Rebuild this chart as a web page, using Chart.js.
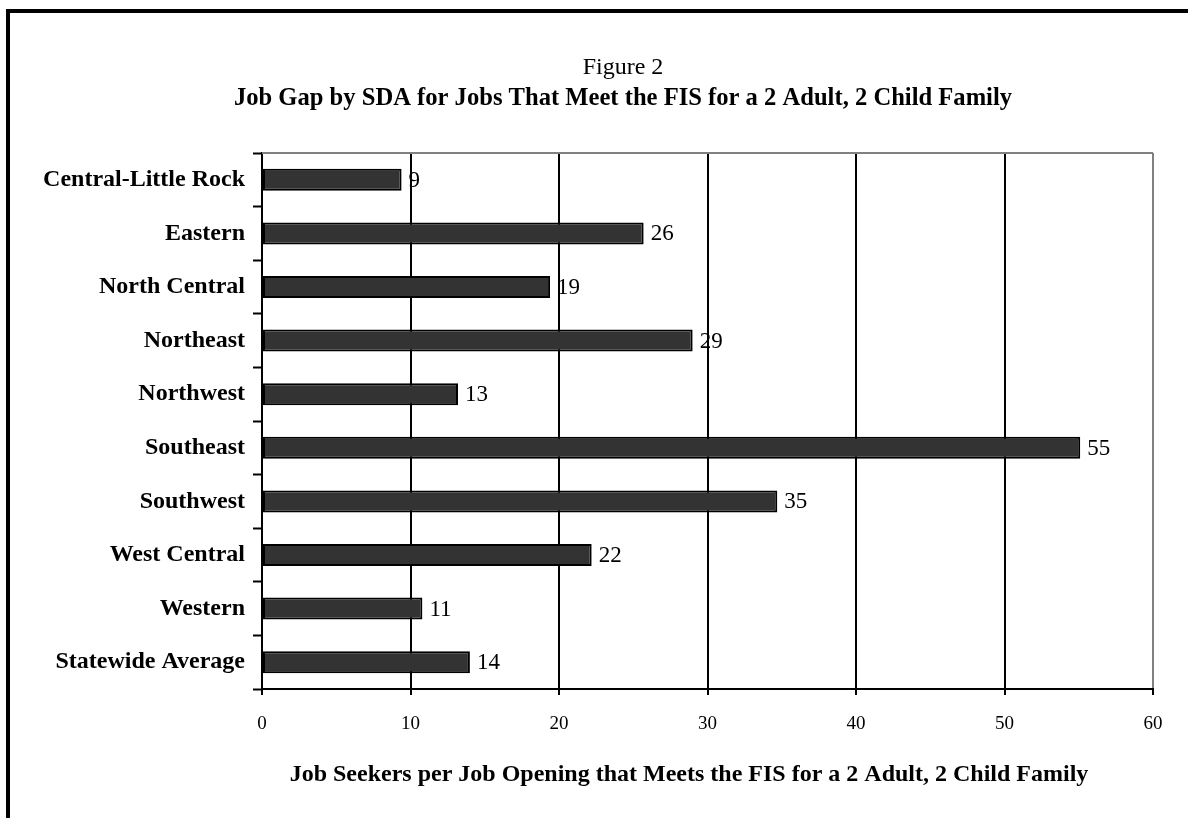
<!DOCTYPE html>
<html>
<head>
<meta charset="utf-8">
<script src="https://cdn.jsdelivr.net/npm/chart.js@4"></script>
<style>
  html, body { margin: 0; padding: 0; background: #fff; }
  #wrap { width: 1188px; height: 818px; position: relative; }
</style>
</head>
<body>
<div id="wrap"><canvas id="c"></canvas></div>
<script>
// ---- data ----
const categories = ["Central-Little Rock", "Eastern", "North Central", "Northeast", "Northwest",
                    "Southeast", "Southwest", "West Central", "Western", "Statewide Average"];
const jobSeekersPerOpening = [9.4, 25.7, 19.4, 29.0, 13.2, 55.1, 34.7, 22.2, 10.8, 14.0];
const xTicks = [0, 10, 20, 30, 40, 50, 60];
const figureLabel = "Figure 2";
const chartTitle = "Job Gap by SDA for Jobs That Meet the FIS for a 2 Adult, 2 Child Family";
const xAxisTitle = "Job Seekers per Job Opening that Meets the FIS for a 2 Adult, 2 Child Family";

const SERIF = "'Liberation Serif', 'Times New Roman', serif";

const framePlugin = {
  id: 'frame',
  beforeDraw(chart) {
    const ctx = chart.ctx;
    ctx.save();
    ctx.fillStyle = '#ffffff';
    ctx.fillRect(0, 0, chart.width, chart.height);
    ctx.fillStyle = '#000000';
    ctx.fillRect(6, 9, chart.width, 4);
    ctx.fillRect(6, 9, 4, chart.height);
    ctx.restore();
  },
  beforeDatasetsDraw(chart) {
    const {ctx, chartArea} = chart;
    ctx.save();
    ctx.strokeStyle = '#808080';
    ctx.lineWidth = 2;
    ctx.beginPath();
    ctx.moveTo(chartArea.left, chartArea.top);
    ctx.lineTo(chartArea.right, chartArea.top);
    ctx.stroke();
    ctx.restore();
  },
  afterDraw(chart) {
    const ctx = chart.ctx;
    ctx.save();
    ctx.fillStyle = '#000';
    ctx.textAlign = 'center';
    ctx.textBaseline = 'middle';
    ctx.font = "24px " + SERIF;
    ctx.fillText(figureLabel, 623, 68);
    ctx.font = "bold 24.6px " + SERIF;
    ctx.fillText(chartTitle, 623, 99);
    ctx.font = "bold 24px " + SERIF;
    ctx.fillText(xAxisTitle, 689, 775);
    ctx.restore();
  }
};

const valueLabels = {
  id: 'valueLabels',
  afterDatasetsDraw(chart) {
    const ctx = chart.ctx;
    const meta = chart.getDatasetMeta(0);
    ctx.save();
    ctx.font = "23px " + SERIF;
    ctx.fillStyle = '#000';
    ctx.textAlign = 'left';
    ctx.textBaseline = 'middle';
    meta.data.forEach((bar, i) => {
      const v = chart.data.datasets[0].data[i];
      ctx.fillText(String(Math.round(v)), bar.x + 7, bar.y + 1);
    });
    ctx.restore();
  }
};

new Chart(document.getElementById('c'), {
  type: 'bar',
  data: {
    labels: categories,
    datasets: [{
      data: jobSeekersPerOpening,
      backgroundColor: '#333333',
      borderColor: '#000000',
      borderWidth: 2,
      borderSkipped: false,
      categoryPercentage: 1.0,
      barPercentage: 0.41
    }]
  },
  options: {
    indexAxis: 'y',
    responsive: true,
    maintainAspectRatio: false,
    animation: false,
    devicePixelRatio: 1,
    layout: { padding: { left: 20, right: 35, top: 153, bottom: 0 } },
    plugins: {
      legend: { display: false },
      tooltip: { enabled: false },
      title: { display: false },
      subtitle: { display: false }
    },
    scales: {
      x: {
        type: 'linear',
        min: 0,
        max: 60,
        afterBuildTicks(scale) { scale.ticks = xTicks.map(v => ({ value: v })); },
        afterFit(scale) { scale.height = 818 - 689; },
        ticks: {
          color: '#000',
          font: { family: SERIF, size: 19 },
          padding: 18,
          maxRotation: 0
        },
        grid: {
          color: ctx => (ctx.tick && ctx.tick.value === 60) ? '#808080' : '#000000',
          lineWidth: 2,
          tickColor: '#000',
          tickLength: 6,
          tickWidth: 2
        },
        border: { display: true, color: '#000', width: 2 },
        title: { display: false, text: xAxisTitle }
      },
      y: {
        afterFit(scale) { scale.width = 262 - 20; },
        ticks: {
          color: '#000',
          font: { family: SERIF, size: 24, weight: 'bold' },
          padding: 8,
          autoSkip: false
        },
        grid: {
          display: true,
          drawOnChartArea: false,
          offset: true,
          tickLength: 9,
          tickColor: '#000',
          tickWidth: 2,
          color: '#000'
        },
        border: { display: true, color: '#000', width: 2 }
      }
    }
  },
  plugins: [framePlugin, valueLabels]
});
</script>
</body>
</html>
